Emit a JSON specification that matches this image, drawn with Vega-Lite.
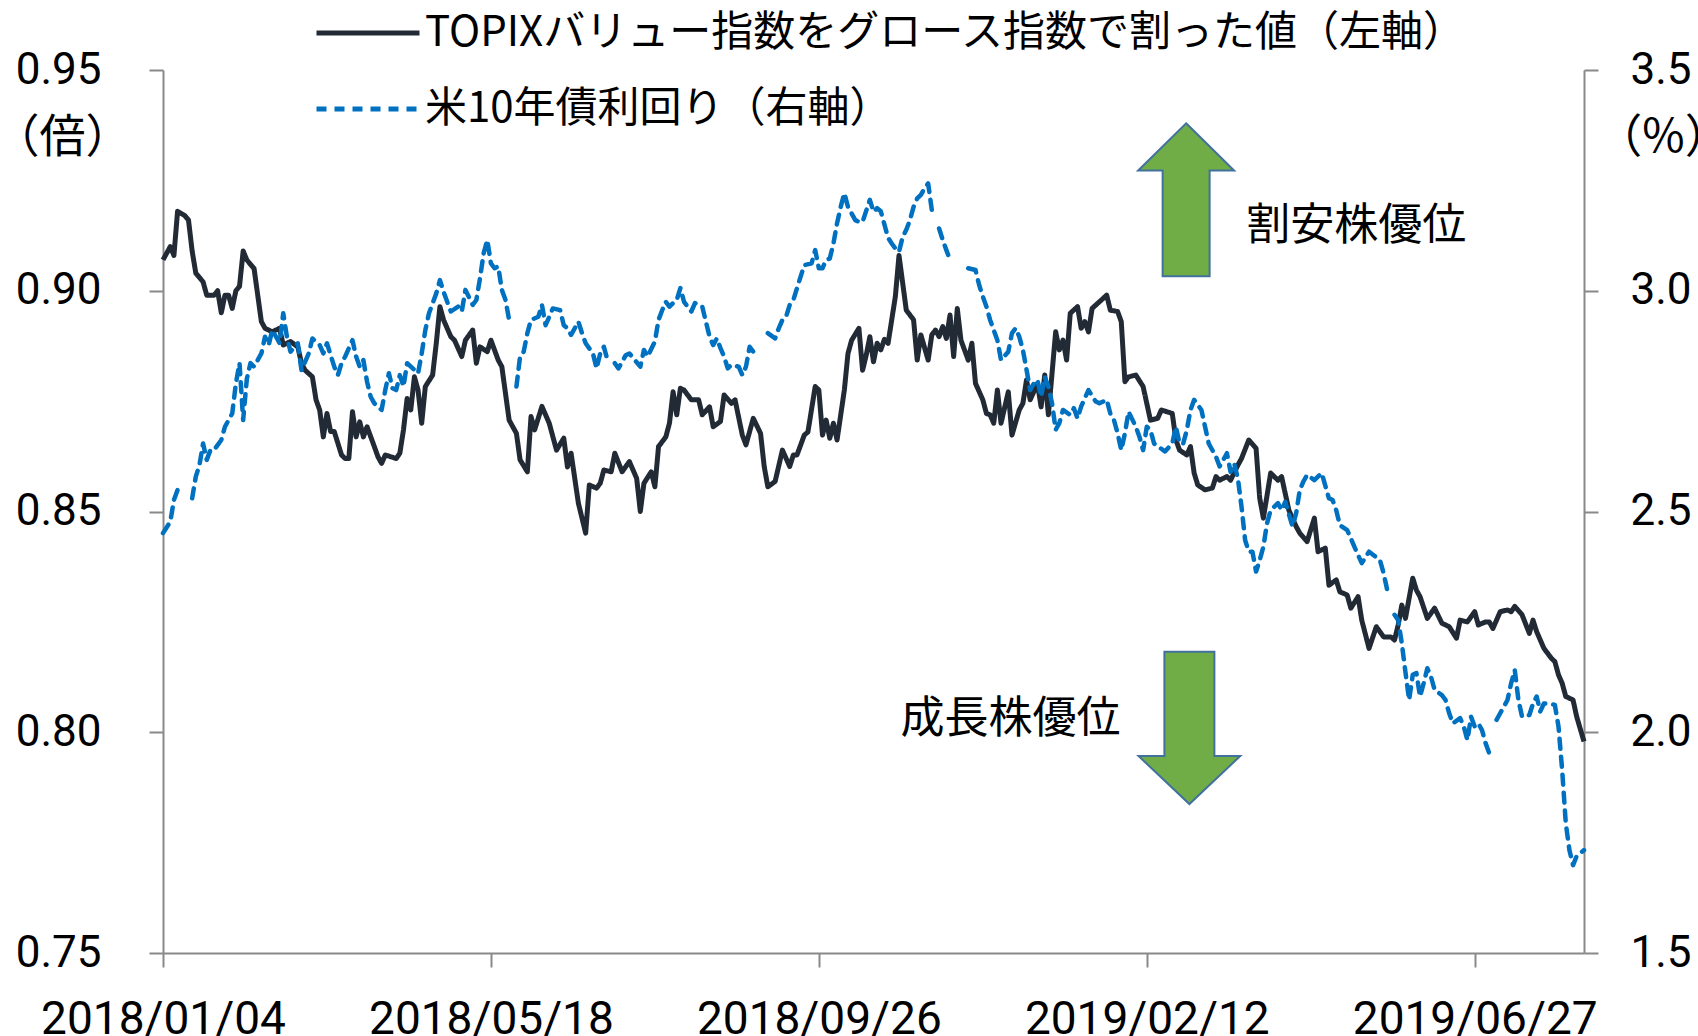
{
  "$schema": "https://vega.github.io/schema/vega-lite/v6.json",
  "width": 1421,
  "height": 883,
  "autosize": {"type": "none"},
  "padding": {"left": 163, "top": 70, "right": 114, "bottom": 83},
  "background": "#ffffff",
  "config": {
    "view": {"stroke": null},
    "axis": {"grid": false, "domainColor": "#898989", "domainWidth": 2, "tickColor": "#898989", "tickWidth": 2, "tickSize": 14, "labelColor": "#000000", "labelFont": "Roboto", "labelFontSize": 44, "labelLimit": 0, "titleColor": "#000000", "titleFont": "Noto Sans CJK JP", "titleFontSize": 46, "titleFontWeight": "normal", "labelFlush": false, "labelOverlap": false, "labelBound": false}
  },
  "datasets": {
    "ratio": [
      {"t":0,"v":0.907},{"t":2,"v":0.910},{"t":3,"v":0.908},{"t":4,"v":0.918},{"t":6,"v":0.917},{"t":7,"v":0.916},{"t":8,"v":0.909},{"t":9,"v":0.904},{"t":10,"v":0.903},{"t":11,"v":0.902},{"t":12,"v":0.899},{"t":14,"v":0.899},{"t":15,"v":0.900},{"t":16,"v":0.895},{"t":17,"v":0.899},{"t":18,"v":0.899},{"t":19,"v":0.896},{"t":20,"v":0.900},{"t":21,"v":0.901},{"t":22,"v":0.909},{"t":23,"v":0.907},{"t":25,"v":0.905},{"t":27,"v":0.893},{"t":28,"v":0.8915},{"t":30,"v":0.8907},{"t":32,"v":0.8915},{"t":33,"v":0.8877},{"t":35,"v":0.8885},{"t":37,"v":0.8873},{"t":38,"v":0.8836},{"t":39,"v":0.882},{"t":41,"v":0.8805},{"t":42,"v":0.8753},{"t":43,"v":0.873},{"t":44,"v":0.8669},{"t":45,"v":0.8722},{"t":46,"v":0.8681},{"t":47,"v":0.8681},{"t":49,"v":0.8628},{"t":50,"v":0.862},{"t":51,"v":0.862},{"t":52,"v":0.8726},{"t":53,"v":0.8669},{"t":54,"v":0.8703},{"t":55,"v":0.8669},{"t":56,"v":0.8692},{"t":58,"v":0.8647},{"t":59,"v":0.8624},{"t":60,"v":0.8609},{"t":61,"v":0.8628},{"t":64,"v":0.862},{"t":65,"v":0.8632},{"t":66,"v":0.8685},{"t":67,"v":0.8756},{"t":68,"v":0.873},{"t":69,"v":0.8805},{"t":70,"v":0.8775},{"t":71,"v":0.870},{"t":72,"v":0.8783},{"t":74,"v":0.8809},{"t":75,"v":0.8881},{"t":76,"v":0.8964},{"t":77,"v":0.8934},{"t":79,"v":0.8896},{"t":80,"v":0.8888},{"t":82,"v":0.8851},{"t":83,"v":0.8888},{"t":85,"v":0.8911},{"t":86,"v":0.8836},{"t":87,"v":0.8873},{"t":89,"v":0.8862},{"t":90,"v":0.8888},{"t":92,"v":0.8843},{"t":93,"v":0.8828},{"t":95,"v":0.8707},{"t":97,"v":0.8677},{"t":98,"v":0.8617},{"t":100,"v":0.859},{"t":101,"v":0.8715},{"t":102,"v":0.8685},{"t":104,"v":0.8738},{"t":106,"v":0.870},{"t":108,"v":0.8639},{"t":110,"v":0.8666},{"t":111,"v":0.8601},{"t":112,"v":0.8632},{"t":114,"v":0.8519},{"t":116,"v":0.8451},{"t":117,"v":0.856},{"t":119,"v":0.8553},{"t":120,"v":0.8564},{"t":121,"v":0.8594},{"t":123,"v":0.859},{"t":124,"v":0.8632},{"t":126,"v":0.859},{"t":128,"v":0.8613},{"t":130,"v":0.8575},{"t":131,"v":0.850},{"t":132,"v":0.8564},{"t":134,"v":0.859},{"t":135,"v":0.8556},{"t":136,"v":0.8647},{"t":138,"v":0.8669},{"t":139,"v":0.870},{"t":140,"v":0.8771},{"t":141,"v":0.8719},{"t":142,"v":0.8779},{"t":143,"v":0.8775},{"t":145,"v":0.8753},{"t":147,"v":0.8753},{"t":148,"v":0.8719},{"t":150,"v":0.8737},{"t":151,"v":0.8692},{"t":153,"v":0.8704},{"t":154,"v":0.8764},{"t":156,"v":0.8745},{"t":157,"v":0.8753},{"t":159,"v":0.8673},{"t":160,"v":0.8651},{"t":162,"v":0.8711},{"t":164,"v":0.8677},{"t":165,"v":0.8602},{"t":166,"v":0.8556},{"t":168,"v":0.8568},{"t":170,"v":0.8639},{"t":172,"v":0.8602},{"t":173,"v":0.8628},{"t":174,"v":0.8628},{"t":176,"v":0.8673},{"t":177,"v":0.868},{"t":179,"v":0.8783},{"t":180,"v":0.8775},{"t":181,"v":0.8673},{"t":182,"v":0.8707},{"t":183,"v":0.8666},{"t":184,"v":0.870},{"t":185,"v":0.8662},{"t":187,"v":0.8775},{"t":188,"v":0.8858},{"t":189,"v":0.8888},{"t":191,"v":0.8915},{"t":192,"v":0.882},{"t":193,"v":0.8854},{"t":194,"v":0.8896},{"t":195,"v":0.8839},{"t":196,"v":0.8881},{"t":197,"v":0.8866},{"t":198,"v":0.8890},{"t":199,"v":0.8881},{"t":201,"v":0.8987},{"t":202,"v":0.908},{"t":204,"v":0.8956},{"t":206,"v":0.8934},{"t":207,"v":0.8843},{"t":208,"v":0.8900},{"t":210,"v":0.8843},{"t":211,"v":0.8900},{"t":212,"v":0.8911},{"t":213,"v":0.8896},{"t":214,"v":0.8919},{"t":215,"v":0.8892},{"t":216,"v":0.8945},{"t":217,"v":0.8851},{"t":218,"v":0.896},{"t":219,"v":0.8888},{"t":221,"v":0.8843},{"t":222,"v":0.8881},{"t":223,"v":0.879},{"t":225,"v":0.8753},{"t":226,"v":0.8722},{"t":227,"v":0.8719},{"t":228,"v":0.870},{"t":229,"v":0.8775},{"t":230,"v":0.870},{"t":232,"v":0.8771},{"t":233,"v":0.8673},{"t":235,"v":0.873},{"t":236,"v":0.8745},{"t":237,"v":0.8798},{"t":238,"v":0.8753},{"t":240,"v":0.879},{"t":241,"v":0.8737},{"t":242,"v":0.8809},{"t":243,"v":0.8719},{"t":245,"v":0.8907},{"t":246,"v":0.8866},{"t":247,"v":0.8888},{"t":248,"v":0.8843},{"t":249,"v":0.8949},{"t":251,"v":0.8964},{"t":252,"v":0.8915},{"t":253,"v":0.893},{"t":254,"v":0.8907},{"t":255,"v":0.896},{"t":257,"v":0.8975},{"t":259,"v":0.899},{"t":260,"v":0.8956},{"t":262,"v":0.8953},{"t":263,"v":0.8930},{"t":264,"v":0.8794},{"t":265,"v":0.8805},{"t":267,"v":0.8809},{"t":269,"v":0.8783},{"t":271,"v":0.8707},{"t":273,"v":0.8711},{"t":274,"v":0.873},{"t":277,"v":0.8722},{"t":278,"v":0.8662},{"t":279,"v":0.8639},{"t":281,"v":0.8628},{"t":282,"v":0.8647},{"t":283,"v":0.8587},{"t":284,"v":0.856},{"t":286,"v":0.8549},{"t":288,"v":0.8553},{"t":289,"v":0.8579},{"t":290,"v":0.8571},{"t":292,"v":0.8579},{"t":293,"v":0.8571},{"t":295,"v":0.8605},{"t":296,"v":0.862},{"t":298,"v":0.8662},{"t":300,"v":0.8643},{"t":301,"v":0.853},{"t":302,"v":0.8485},{"t":304,"v":0.8587},{"t":306,"v":0.8571},{"t":307,"v":0.8579},{"t":309,"v":0.8503},{"t":311,"v":0.8466},{"t":312,"v":0.8451},{"t":314,"v":0.8432},{"t":316,"v":0.8485},{"t":317,"v":0.8409},{"t":319,"v":0.8417},{"t":320,"v":0.8333},{"t":322,"v":0.8345},{"t":323,"v":0.8318},{"t":325,"v":0.8311},{"t":326,"v":0.8281},{"t":328,"v":0.8307},{"t":329,"v":0.8254},{"t":331,"v":0.819},{"t":333,"v":0.8239},{"t":335,"v":0.8216},{"t":337,"v":0.8216},{"t":338,"v":0.8209},{"t":339,"v":0.8243},{"t":340,"v":0.8288},{"t":341,"v":0.8258},{"t":343,"v":0.8349},{"t":344,"v":0.8322},{"t":345,"v":0.8307},{"t":347,"v":0.8258},{"t":349,"v":0.8281},{"t":351,"v":0.8247},{"t":353,"v":0.8239},{"t":355,"v":0.8213},{"t":356,"v":0.8254},{"t":358,"v":0.825},{"t":360,"v":0.8273},{"t":361,"v":0.8243},{"t":363,"v":0.825},{"t":364,"v":0.825},{"t":365,"v":0.8235},{"t":367,"v":0.8273},{"t":369,"v":0.8277},{"t":370,"v":0.8273},{"t":371,"v":0.8285},{"t":373,"v":0.8266},{"t":375,"v":0.8224},{"t":376,"v":0.8254},{"t":377,"v":0.8228},{"t":379,"v":0.819},{"t":381,"v":0.8168},{"t":382,"v":0.816},{"t":383,"v":0.813},{"t":384,"v":0.8111},{"t":385,"v":0.8081},{"t":387,"v":0.8073},{"t":388,"v":0.8035},{"t":390,"v":0.7979}
    ],
    "yield": [
      {"t":0,"y":2.451},{"t":2,"y":2.477},{"t":3,"y":2.526},{"t":4,"y":2.549},{"t":5,"y":2.534},{"t":6,"y":null},{"t":8,"y":2.530},{"t":9,"y":2.579},{"t":10,"y":2.605},{"t":11,"y":2.654},{"t":12,"y":2.617},{"t":13,"y":2.639},{"t":14,"y":2.639},{"t":16,"y":2.662},{"t":17,"y":2.692},{"t":18,"y":2.707},{"t":19,"y":2.722},{"t":20,"y":2.790},{"t":21,"y":2.836},{"t":22,"y":2.707},{"t":23,"y":2.800},{"t":24,"y":2.836},{"t":25,"y":2.828},{"t":27,"y":2.858},{"t":28,"y":2.896},{"t":29,"y":2.877},{"t":30,"y":2.911},{"t":32,"y":2.881},{"t":33,"y":2.949},{"t":34,"y":2.896},{"t":35,"y":2.862},{"t":37,"y":2.881},{"t":38,"y":2.820},{"t":40,"y":2.858},{"t":41,"y":2.892},{"t":43,"y":2.877},{"t":44,"y":2.858},{"t":45,"y":2.881},{"t":47,"y":2.828},{"t":48,"y":2.809},{"t":49,"y":2.836},{"t":50,"y":2.851},{"t":52,"y":2.888},{"t":53,"y":2.851},{"t":54,"y":2.828},{"t":55,"y":2.843},{"t":56,"y":2.794},{"t":57,"y":2.760},{"t":58,"y":2.745},{"t":60,"y":2.730},{"t":61,"y":2.775},{"t":62,"y":2.813},{"t":63,"y":2.779},{"t":64,"y":2.775},{"t":65,"y":2.809},{"t":66,"y":2.783},{"t":67,"y":2.836},{"t":70,"y":2.813},{"t":71,"y":2.858},{"t":72,"y":2.911},{"t":73,"y":2.949},{"t":75,"y":2.994},{"t":76,"y":3.024},{"t":77,"y":2.998},{"t":78,"y":2.975},{"t":79,"y":2.953},{"t":81,"y":2.964},{"t":82,"y":2.953},{"t":83,"y":3.002},{"t":85,"y":2.968},{"t":86,"y":2.979},{"t":87,"y":3.028},{"t":88,"y":3.085},{"t":89,"y":3.115},{"t":90,"y":3.062},{"t":91,"y":3.051},{"t":92,"y":3.055},{"t":93,"y":3.002},{"t":94,"y":2.979},{"t":95,"y":2.934},{"t":96,"y":null},{"t":97,"y":2.783},{"t":98,"y":2.851},{"t":99,"y":2.862},{"t":100,"y":2.904},{"t":101,"y":2.934},{"t":103,"y":2.941},{"t":104,"y":2.968},{"t":105,"y":2.922},{"t":106,"y":2.941},{"t":107,"y":2.960},{"t":109,"y":2.956},{"t":110,"y":2.922},{"t":111,"y":2.915},{"t":112,"y":2.900},{"t":114,"y":2.930},{"t":115,"y":2.904},{"t":116,"y":2.881},{"t":118,"y":2.858},{"t":119,"y":2.824},{"t":120,"y":2.858},{"t":121,"y":2.873},{"t":122,"y":2.843},{"t":123,"y":null},{"t":124,"y":2.836},{"t":125,"y":2.824},{"t":127,"y":2.854},{"t":128,"y":2.858},{"t":131,"y":2.828},{"t":132,"y":2.866},{"t":133,"y":2.851},{"t":135,"y":2.885},{"t":136,"y":2.934},{"t":137,"y":2.956},{"t":138,"y":2.975},{"t":139,"y":2.964},{"t":140,"y":2.972},{"t":141,"y":2.979},{"t":142,"y":3.006},{"t":143,"y":2.975},{"t":145,"y":2.953},{"t":146,"y":2.972},{"t":148,"y":2.964},{"t":149,"y":2.930},{"t":150,"y":2.896},{"t":151,"y":2.877},{"t":152,"y":2.892},{"t":153,"y":2.870},{"t":154,"y":2.851},{"t":155,"y":2.824},{"t":156,"y":2.832},{"t":158,"y":2.828},{"t":159,"y":2.809},{"t":160,"y":2.828},{"t":161,"y":2.873},{"t":162,"y":2.862},{"t":164,"y":2.858},{"t":165,"y":null},{"t":166,"y":2.904},{"t":168,"y":2.892},{"t":169,"y":2.915},{"t":170,"y":2.934},{"t":171,"y":2.941},{"t":172,"y":2.968},{"t":173,"y":2.979},{"t":174,"y":3.006},{"t":175,"y":3.032},{"t":176,"y":3.058},{"t":178,"y":3.062},{"t":179,"y":3.092},{"t":180,"y":3.051},{"t":181,"y":3.051},{"t":182,"y":3.070},{"t":183,"y":3.073},{"t":184,"y":3.107},{"t":185,"y":3.153},{"t":186,"y":3.190},{"t":187,"y":3.221},{"t":188,"y":3.190},{"t":190,"y":3.160},{"t":191,"y":3.156},{"t":192,"y":3.156},{"t":194,"y":3.206},{"t":195,"y":3.179},{"t":196,"y":3.187},{"t":197,"y":3.180},{"t":198,"y":3.150},{"t":199,"y":3.120},{"t":200,"y":3.107},{"t":201,"y":3.096},{"t":202,"y":3.088},{"t":203,"y":3.122},{"t":204,"y":3.138},{"t":205,"y":3.160},{"t":206,"y":3.190},{"t":207,"y":3.209},{"t":208,"y":3.217},{"t":209,"y":3.232},{"t":210,"y":3.243},{"t":211,"y":3.183},{"t":212,"y":null},{"t":213,"y":3.141},{"t":214,"y":3.115},{"t":215,"y":3.092},{"t":216,"y":3.070},{"t":220,"y":null},{"t":221,"y":3.051},{"t":223,"y":3.047},{"t":224,"y":3.013},{"t":225,"y":2.987},{"t":226,"y":2.964},{"t":227,"y":2.934},{"t":228,"y":2.911},{"t":229,"y":2.888},{"t":230,"y":2.843},{"t":232,"y":2.862},{"t":233,"y":2.904},{"t":234,"y":2.915},{"t":235,"y":2.896},{"t":236,"y":2.866},{"t":237,"y":2.821},{"t":238,"y":2.775},{"t":239,"y":2.790},{"t":240,"y":2.798},{"t":241,"y":2.760},{"t":242,"y":2.805},{"t":243,"y":2.783},{"t":244,"y":2.745},{"t":245,"y":2.685},{"t":246,"y":2.700},{"t":247,"y":2.730},{"t":249,"y":2.719},{"t":250,"y":2.734},{"t":251,"y":2.711},{"t":252,"y":2.738},{"t":254,"y":2.775},{"t":256,"y":2.749},{"t":257,"y":2.745},{"t":259,"y":2.753},{"t":260,"y":2.722},{"t":261,"y":2.707},{"t":262,"y":2.677},{"t":263,"y":2.639},{"t":264,"y":2.677},{"t":265,"y":2.726},{"t":267,"y":2.692},{"t":268,"y":2.669},{"t":269,"y":2.639},{"t":270,"y":2.692},{"t":271,"y":2.685},{"t":272,"y":2.654},{"t":275,"y":2.636},{"t":277,"y":2.654},{"t":278,"y":2.692},{"t":279,"y":2.654},{"t":280,"y":2.654},{"t":281,"y":2.685},{"t":282,"y":2.730},{"t":283,"y":2.753},{"t":285,"y":2.730},{"t":286,"y":2.692},{"t":287,"y":2.654},{"t":289,"y":2.624},{"t":290,"y":2.602},{"t":291,"y":2.617},{"t":292,"y":2.632},{"t":293,"y":2.590},{"t":294,"y":2.609},{"t":295,"y":2.575},{"t":296,"y":2.511},{"t":297,"y":2.435},{"t":298,"y":2.409},{"t":299,"y":2.409},{"t":300,"y":2.364},{"t":301,"y":2.390},{"t":302,"y":2.420},{"t":303,"y":2.473},{"t":304,"y":2.503},{"t":306,"y":2.519},{"t":307,"y":2.503},{"t":308,"y":2.522},{"t":310,"y":2.466},{"t":311,"y":2.496},{"t":312,"y":2.549},{"t":313,"y":2.568},{"t":314,"y":2.583},{"t":316,"y":2.571},{"t":318,"y":2.587},{"t":320,"y":2.530},{"t":321,"y":2.526},{"t":322,"y":2.503},{"t":323,"y":2.469},{"t":325,"y":2.458},{"t":327,"y":2.420},{"t":328,"y":2.401},{"t":329,"y":2.383},{"t":331,"y":2.409},{"t":334,"y":2.390},{"t":335,"y":2.360},{"t":336,"y":2.322},{"t":337,"y":null},{"t":338,"y":2.266},{"t":339,"y":2.254},{"t":340,"y":2.201},{"t":341,"y":2.136},{"t":342,"y":2.073},{"t":343,"y":2.130},{"t":344,"y":2.134},{"t":345,"y":2.081},{"t":346,"y":2.111},{"t":347,"y":2.145},{"t":348,"y":2.126},{"t":349,"y":2.096},{"t":351,"y":2.084},{"t":352,"y":2.073},{"t":353,"y":2.043},{"t":354,"y":2.020},{"t":356,"y":2.032},{"t":357,"y":2.013},{"t":358,"y":1.982},{"t":359,"y":2.035},{"t":360,"y":2.013},{"t":361,"y":2.020},{"t":362,"y":2.005},{"t":363,"y":1.975},{"t":364,"y":1.952},{"t":365,"y":null},{"t":366,"y":2.028},{"t":367,"y":2.043},{"t":369,"y":2.073},{"t":370,"y":2.111},{"t":371,"y":2.141},{"t":372,"y":2.073},{"t":373,"y":2.035},{"t":375,"y":2.039},{"t":376,"y":2.065},{"t":377,"y":2.081},{"t":378,"y":2.047},{"t":379,"y":2.065},{"t":380,"y":2.065},{"t":382,"y":2.062},{"t":383,"y":2.013},{"t":384,"y":1.915},{"t":385,"y":1.794},{"t":386,"y":1.733},{"t":387,"y":1.699},{"t":388,"y":1.720},{"t":390,"y":1.733}
    ]
  },
  "layer": [
    {
      "layer": [
        {
          "data": {"name": "ratio"},
          "mark": {"type": "line", "strokeWidth": 5, "strokeJoin": "round"},
          "encoding": {
            "x": {"field": "t", "type": "quantitative", "scale": {"domain": [0, 390], "nice": false, "zero": false},
                  "axis": {"values": [0, 90, 180, 270, 360], "labelExpr": "['2018/01/04','2018/05/18','2018/09/26','2019/02/12','2019/06/27'][round(datum.value/90)]", "labelFontSize": 46, "labelLimit": 0, "labelPadding": 30, "title": null}},
            "y": {"field": "v", "type": "quantitative", "scale": {"domain": [0.75, 0.95], "nice": false, "zero": false},
                  "axis": {"orient": "left", "values": [0.75, 0.8, 0.85, 0.9, 0.95], "format": ".2f", "labelPadding": 48, "title": "（倍）", "titleAngle": 0, "titleX": -101, "titleY": 67, "titleAlign": "center", "titleBaseline": "middle"}},
            "color": {"datum": "TOPIXバリュー指数をグロース指数で割った値（左軸）", "type": "nominal",
                      "scale": {"domain": ["TOPIXバリュー指数をグロース指数で割った値（左軸）", "米10年債利回り（右軸）"], "range": ["#222A35", "#0070C0"]},
                      "legend": {"orient": "none", "legendX": 151, "legendY": -58, "title": null, "direction": "vertical", "symbolType": "stroke", "symbolSize": 10609, "symbolStrokeWidth": 5, "labelFont": "Noto Sans CJK JP", "labelFontSize": 42, "labelColor": "#000000", "labelLimit": 0, "labelOffset": 3, "rowPadding": 34, "clipHeight": 42, "padding": 0}},
            "strokeDash": {"datum": "TOPIXバリュー指数をグロース指数で割った値（左軸）", "type": "nominal",
                      "scale": {"domain": ["TOPIXバリュー指数をグロース指数で割った値（左軸）", "米10年債利回り（右軸）"], "range": [[1, 0], [10, 8]]},
                      "legend": {"orient": "none", "legendX": 151, "legendY": -58, "title": null, "direction": "vertical", "symbolType": "stroke", "symbolSize": 10609, "symbolStrokeWidth": 5, "labelFont": "Noto Sans CJK JP", "labelFontSize": 42, "labelColor": "#000000", "labelLimit": 0, "labelOffset": 3, "rowPadding": 34, "clipHeight": 42, "padding": 0}}
          }
        },
        {
          "data": {"values": [{}]},
          "mark": {"type": "point", "shape": "M0,-1L0.627,-0.383L0.307,-0.383L0.307,1L-0.307,1L-0.307,-0.383L-0.627,-0.383Z", "size": 23409, "filled": true, "fill": "#70AD47", "stroke": "#41719C", "strokeWidth": 2, "opacity": 1},
          "encoding": {"x": {"datum": 280.8, "type": "quantitative"}, "y": {"datum": 0.9206, "type": "quantitative"}}
        },
        {
          "data": {"values": [{}]},
          "mark": {"type": "point", "shape": "M-0.328,-1L0.328,-1L0.328,0.37L0.667,0.37L0,1L-0.667,0.37L-0.328,0.37Z", "size": 23225, "filled": true, "fill": "#70AD47", "stroke": "#41719C", "strokeWidth": 2, "opacity": 1},
          "encoding": {"x": {"datum": 281.7, "type": "quantitative"}, "y": {"datum": 0.8010, "type": "quantitative"}}
        },
        {
          "data": {"values": [{}]},
          "mark": {"type": "text", "text": "割安株優位", "align": "left", "baseline": "middle", "font": "Noto Sans CJK JP", "fontSize": 44, "color": "#000000"},
          "encoding": {"x": {"datum": 297.3, "type": "quantitative"}, "y": {"datum": 0.9145, "type": "quantitative"}}
        },
        {
          "data": {"values": [{}]},
          "mark": {"type": "text", "text": "成長株優位", "align": "left", "baseline": "middle", "font": "Noto Sans CJK JP", "fontSize": 44, "color": "#000000"},
          "encoding": {"x": {"datum": 202.4, "type": "quantitative"}, "y": {"datum": 0.8028, "type": "quantitative"}}
        }
      ]
    },
    {
      "data": {"name": "yield"},
      "mark": {"type": "line", "strokeWidth": 4.5, "strokeCap": "round", "strokeJoin": "round", "invalid": "break-paths-filter-domains"},
      "encoding": {
        "x": {"field": "t", "type": "quantitative"},
        "y": {"field": "y", "type": "quantitative", "scale": {"domain": [1.5, 3.5], "nice": false, "zero": false},
              "axis": {"orient": "right", "values": [1.5, 2, 2.5, 3, 3.5], "format": ".1f", "labelPadding": 32, "title": "（%）", "titleAngle": 0, "titleX": 79, "titleY": 67, "titleAlign": "center", "titleBaseline": "middle"}},
        "color": {"datum": "米10年債利回り（右軸）", "type": "nominal"},
        "strokeDash": {"datum": "米10年債利回り（右軸）", "type": "nominal"}
      }
    }
  ],
  "resolve": {"scale": {"y": "independent"}}
}
